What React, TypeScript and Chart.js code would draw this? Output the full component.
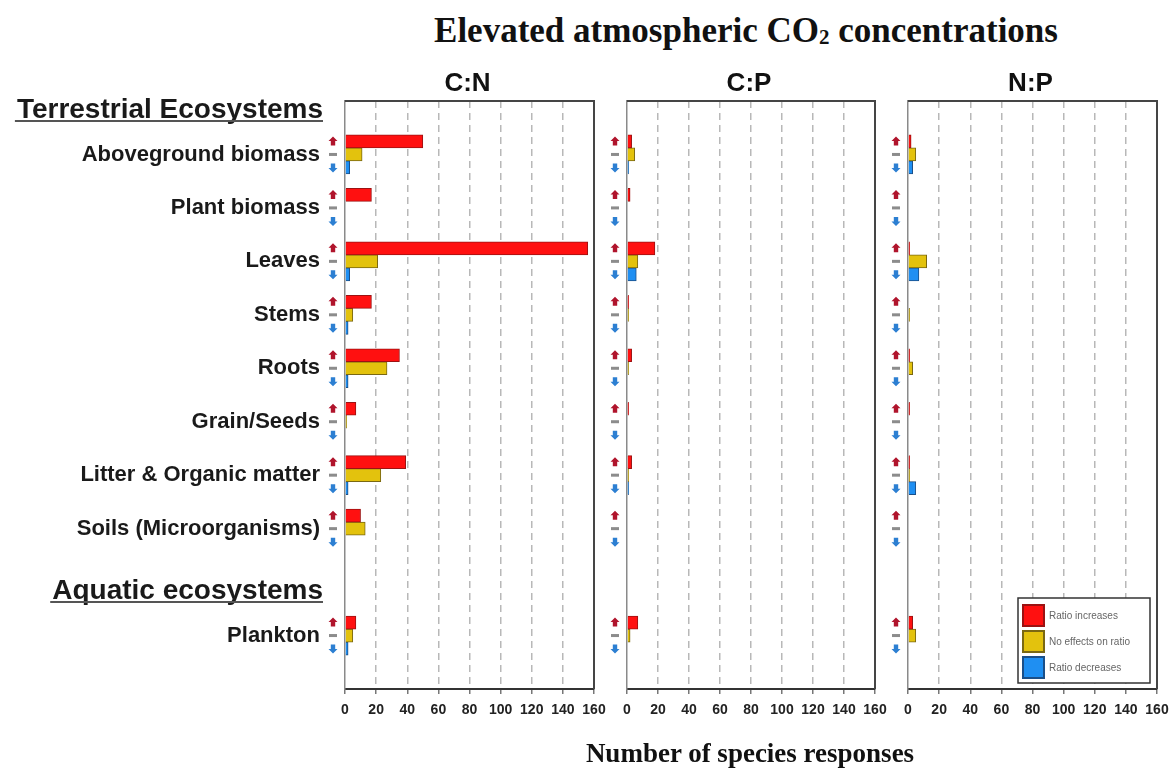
import React, { useEffect, useRef } from 'react';
import { Chart, registerables } from 'chart.js';

Chart.register(...registerables);

// ---------- data ----------
const categories = [
  'Aboveground biomass',
  'Plant biomass',
  'Leaves',
  'Stems',
  'Roots',
  'Grain/Seeds',
  'Litter & Organic matter',
  'Soils (Microorganisms)',
  'Plankton',
];
// y slots (blank slots hold the section headers / margins)
const yLabels = [
  '',
  'Aboveground biomass',
  'Plant biomass',
  'Leaves',
  'Stems',
  'Roots',
  'Grain/Seeds',
  'Litter & Organic matter',
  'Soils (Microorganisms)',
  ' ',
  'Plankton',
  '  ',
];
const seriesNames = ['Ratio increases', 'No effects on ratio', 'Ratio decreases'];
const panelTitles = ['C:N', 'C:P', 'N:P'];
const xTicks = [0, 20, 40, 60, 80, 100, 120, 140, 160];

const increasesCN = [50, 17, 156, 17, 35, 7, 39, 10, 7];
const noEffectCN = [11, 0, 21, 5, 27, 1, 23, 13, 5];
const decreasesCN = [3, 0, 3, 2, 2, 0, 2, 0, 2];

const increasesCP = [3, 2, 18, 1, 3, 1, 3, 0, 7];
const noEffectCP = [5, 0, 7, 1, 1, 0, 1, 0, 2];
const decreasesCP = [1, 0, 6, 0, 0, 0, 1, 0, 0];

const increasesNP = [2, 0, 1, 0, 1, 1, 1, 0, 3];
const noEffectNP = [5, 0, 12, 1, 3, 0, 1, 0, 5];
const decreasesNP = [3, 0, 7, 0, 0, 0, 5, 0, 0];

const headerTerrestrial = 'Terrestrial Ecosystems';
const headerAquatic = 'Aquatic ecosystems';
const mainTitle = 'Elevated atmospheric CO';
const mainTitleEnd = ' concentrations';
const xTitle = 'Number of species responses';

// ---------- styles ----------
const SANS = '"Liberation Sans", Arial, sans-serif';
const fills = ['#ff1010', '#e3c20d', '#1f8ff2'];
const borders = ['#9c1212', '#7a6812', '#1b4f88'];

function buildDatasets(series: number[][]) {
  return series.map((vals, k) => ({
    label: seriesNames[k],
    data: categories
      .map((c, i) => ({ x: vals[i], y: c }))
      .filter((p) => p.x > 0),
    backgroundColor: fills[k],
    borderColor: borders[k],
    borderWidth: 1,
    barThickness: 13,
  }));
}

function drawUp(ctx: CanvasRenderingContext2D, x: number, y: number) {
  ctx.fillStyle = '#b0142c';
  ctx.beginPath();
  ctx.moveTo(x, y - 5);
  ctx.lineTo(x + 4.5, y - 0.5);
  ctx.lineTo(x + 2.2, y - 0.5);
  ctx.lineTo(x + 2.2, y + 4);
  ctx.lineTo(x - 2.2, y + 4);
  ctx.lineTo(x - 2.2, y - 0.5);
  ctx.lineTo(x - 4.5, y - 0.5);
  ctx.closePath();
  ctx.fill();
}
function drawDown(ctx: CanvasRenderingContext2D, x: number, y: number) {
  ctx.fillStyle = '#2c7fd2';
  ctx.beginPath();
  ctx.moveTo(x, y + 5);
  ctx.lineTo(x + 4.5, y + 0.5);
  ctx.lineTo(x + 2.2, y + 0.5);
  ctx.lineTo(x + 2.2, y - 4);
  ctx.lineTo(x - 2.2, y - 4);
  ctx.lineTo(x - 2.2, y + 0.5);
  ctx.lineTo(x - 4.5, y + 0.5);
  ctx.closePath();
  ctx.fill();
}
function drawDash(ctx: CanvasRenderingContext2D, x: number, y: number) {
  ctx.fillStyle = '#8c8c8c';
  ctx.fillRect(x - 4, y - 1.5, 8, 3);
}

const decorPlugin = {
  id: 'decor',
  afterDraw(chart: any, _args: any, opts: any) {
    const { ctx, chartArea: a, scales } = chart;
    const ys = scales.y;
    ctx.save();
    // top + right frame
    ctx.strokeStyle = '#454545';
    ctx.lineWidth = 2;
    ctx.beginPath();
    ctx.moveTo(a.left, a.top);
    ctx.lineTo(a.right, a.top);
    ctx.lineTo(a.right, a.bottom);
    ctx.stroke();

    // panel title
    ctx.fillStyle = '#111';
    ctx.font = `bold 26px ${SANS}`;
    ctx.textAlign = 'center';
    ctx.textBaseline = 'middle';
    ctx.fillText(opts.title, (a.left + a.right) / 2 - 2, a.top - 17);

    // arrow markers
    categories.forEach((c) => {
      const cy = ys.getPixelForValue(yLabels.indexOf(c));
      const ax = a.left - 12;
      drawUp(ctx, ax, cy - 13);
      drawDash(ctx, ax, cy);
      drawDown(ctx, ax, cy + 13);
    });

    // section headers
    if (opts.headers) {
      ctx.font = `bold 28px ${SANS}`;
      ctx.textAlign = 'right';
      ctx.textBaseline = 'alphabetic';
      ctx.fillStyle = '#1a1a1a';
      const hx = a.left - 22;
      const items: [string, number][] = [
        [headerTerrestrial, ys.getPixelForValue(0) + 17],
        [headerAquatic, ys.getPixelForValue(9) + 17],
      ];
      items.forEach(([t, by]) => {
        ctx.fillText(t, hx, by);
        const w = ctx.measureText(t).width;
        ctx.strokeStyle = '#555';
        ctx.lineWidth = 2;
        ctx.beginPath();
        ctx.moveTo(hx - w - 2, by + 3);
        ctx.lineTo(hx, by + 3);
        ctx.stroke();
      });
    }

    // legend
    if (opts.legend) {
      const bw = 132;
      const bh = 85;
      const bx = a.right - 7 - bw;
      const by = a.bottom - 6 - bh;
      ctx.fillStyle = '#fff';
      ctx.fillRect(bx, by, bw, bh);
      ctx.strokeStyle = '#333';
      ctx.lineWidth = 1.5;
      ctx.strokeRect(bx, by, bw, bh);
      chart.data.datasets.forEach((ds: any, k: number) => {
        const sy = by + 7 + k * 26;
        ctx.fillStyle = ds.backgroundColor;
        ctx.fillRect(bx + 5, sy, 21, 21);
        ctx.strokeStyle = ds.borderColor;
        ctx.lineWidth = 2;
        ctx.strokeRect(bx + 5, sy, 21, 21);
        ctx.fillStyle = '#666';
        ctx.font = `10px ${SANS}`;
        ctx.textAlign = 'left';
        ctx.textBaseline = 'middle';
        ctx.fillText(ds.label, bx + 31, sy + 11);
      });
    }
    ctx.restore();
  },
};

function makeChart(
  canvas: HTMLCanvasElement,
  series: number[][],
  title: string,
  padL: number,
  padR: number,
  first: boolean,
  legend: boolean
) {
  return new Chart(canvas, {
    type: 'bar',
    data: { labels: yLabels, datasets: buildDatasets(series) as any },
    plugins: [decorPlugin as any],
    options: {
      indexAxis: 'y',
      animation: false,
      responsive: false,
      devicePixelRatio: 1,
      layout: { padding: { left: padL, right: padR, top: 101, bottom: 0 } },
      plugins: {
        legend: { display: false },
        tooltip: { enabled: false },
        decor: { title, headers: first, legend },
      } as any,
      scales: {
        x: {
          type: 'linear',
          min: 0,
          max: 160,
          afterBuildTicks: (s: any) => {
            s.ticks = xTicks.map((v) => ({ value: v }));
          },
          ticks: {
            font: { family: SANS, weight: 'bold', size: 14 },
            color: '#222',
            padding: 8,
            maxRotation: 0,
          },
          grid: {
            color: (c: any) =>
              c.tick && (c.tick.value === 0 || c.tick.value === 160) ? 'rgba(0,0,0,0)' : '#b8b8b8',
            lineWidth: 1.5,
            tickLength: 5,
            tickColor: '#777',
          },
          border: { display: true, color: '#333', width: 2, dash: [7, 5] },
          afterFit: (s: any) => {
            s.height = 80;
            s.paddingLeft = 0;
            s.paddingRight = 0;
          },
        } as any,
        y: {
          type: 'category',
          labels: yLabels,
          offset: false,
          ticks: {
            display: first,
            autoSkip: false,
            padding: 25,
            font: { family: SANS, weight: 'bold', size: 22 },
            color: '#1a1a1a',
          },
          grid: { display: false, drawTicks: false },
          border: { display: true, color: '#8a8a8a', width: 1.5 },
          afterFit: (s: any) => {
            s.width = first ? 345 : 0;
            s.paddingTop = 0;
            s.paddingBottom = 0;
          },
        } as any,
      },
    },
  });
}

export default function App() {
  const r1 = useRef<HTMLCanvasElement>(null);
  const r2 = useRef<HTMLCanvasElement>(null);
  const r3 = useRef<HTMLCanvasElement>(null);

  useEffect(() => {
    const c1 = makeChart(r1.current!, [increasesCN, noEffectCN, decreasesCN], panelTitles[0], 0, 21, true, false);
    const c2 = makeChart(r2.current!, [increasesCP, noEffectCP, decreasesCP], panelTitles[1], 22, 20, false, false);
    const c3 = makeChart(r3.current!, [increasesNP, noEffectNP, decreasesNP], panelTitles[2], 23, 18, false, true);
    return () => {
      c1.destroy();
      c2.destroy();
      c3.destroy();
    };
  }, []);

  const serif = '"Liberation Serif", "Times New Roman", serif';
  return (
    <div style={{ position: 'relative', width: 1175, height: 769, background: '#fff', overflow: 'hidden' }}>
      <style>{`body{margin:0;background:#fff}`}</style>
      <div
        style={{
          position: 'absolute',
          left: 346,
          width: 800,
          top: 11,
          lineHeight: '40px',
          textAlign: 'center',
          fontFamily: serif,
          fontWeight: 'bold',
          fontSize: 35,
          color: '#111',
          whiteSpace: 'nowrap',
        }}
      >
        {mainTitle}
        <span style={{ fontSize: '0.6em', position: 'relative', top: '0.1em' }}>2</span>
        {mainTitleEnd}
      </div>
      <canvas ref={r1} width={615} height={769} style={{ position: 'absolute', left: 0, top: 0 }} />
      <canvas ref={r2} width={290} height={769} style={{ position: 'absolute', left: 605, top: 0 }} />
      <canvas ref={r3} width={290} height={769} style={{ position: 'absolute', left: 885, top: 0 }} />
      <div
        style={{
          position: 'absolute',
          left: 350,
          width: 800,
          top: 738,
          lineHeight: '30px',
          textAlign: 'center',
          fontFamily: serif,
          fontWeight: 'bold',
          fontSize: 27,
          color: '#111',
          whiteSpace: 'nowrap',
        }}
      >
        {xTitle}
      </div>
    </div>
  );
}
